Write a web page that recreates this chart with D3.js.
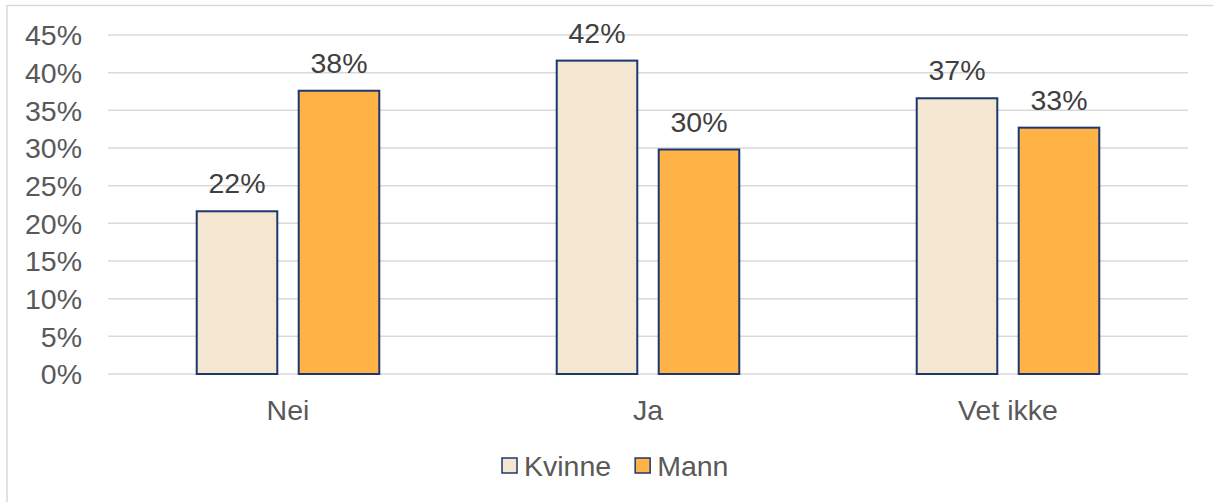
<!DOCTYPE html>
<html>
<head>
<meta charset="utf-8">
<script src="https://cdn.jsdelivr.net/npm/d3@7"></script>
<style>
  body { margin: 0; background: #fff; }
  text { font-family: "Liberation Sans", Arial, sans-serif; }
</style>
</head>
<body>
<div id="chart"></div>
<script>
var categories = ["Nei", "Ja", "Vet ikke"]
var series = ["Kvinne", "Mann"]
var kvinne = [21.6, 41.6, 36.6]
var mann = [37.6, 29.8, 32.7]
var yTicks = [0, 5, 10, 15, 20, 25, 30, 35, 40, 45]

var colors = { Kvinne: "#f5e6d2", Mann: "#ffb347" }
var strokeCol = "#1c3770"

var W = 1213, H = 502
var svg = d3.select("#chart").append("svg").attr("width", W).attr("height", H)

// chart frame (cropped at right/bottom)
svg.append("rect").attr("x", 7).attr("y", 5.5).attr("width", 1230).attr("height", 520)
	.attr("fill", "none").attr("stroke", "#d9d9d9").attr("stroke-width", 1.5)

var x0 = d3.scaleBand().domain(categories).range([108, 1188])
var x1 = d3.scaleBand().domain(series).range([0, x0.bandwidth()]).paddingInner(0.21).paddingOuter(0.87)
var y = d3.scaleLinear().domain([0, 45]).range([374, 35])

// gridlines
svg.append("g").selectAll("line").data(yTicks).enter().append("line")
	.attr("x1", 108).attr("x2", 1188)
	.attr("y1", function(d){ return y(d) }).attr("y2", function(d){ return y(d) })
	.attr("stroke", "#d9d9d9").attr("stroke-width", 1.5)

// y axis labels
var yAxis = d3.axisLeft(y).tickValues(yTicks).tickFormat(function(d){ return d + "%" }).tickSize(0).tickPadding(26)
var ga = svg.append("g").attr("transform", "translate(108,0)").call(yAxis)
ga.select(".domain").remove()
ga.selectAll("text").attr("font-size", "28.5px").attr("fill", "#595959")
	.attr("font-family", "Liberation Sans, Arial, sans-serif").attr("dy", "0.35em")

var rows = categories.map(function(c, i){ return { cat: c, vals: [ { s: "Kvinne", v: kvinne[i] }, { s: "Mann", v: mann[i] } ] } })

var groups = svg.selectAll(".grp").data(rows).enter().append("g")
	.attr("transform", function(d){ return "translate(" + x0(d.cat) + ",0)" })

groups.selectAll("rect").data(function(d){ return d.vals }).enter().append("rect")
	.attr("x", function(d){ return x1(d.s) })
	.attr("width", x1.bandwidth())
	.attr("y", function(d){ return y(d.v) })
	.attr("height", function(d){ return y(0) - y(d.v) })
	.attr("fill", function(d){ return colors[d.s] })
	.attr("stroke", strokeCol).attr("stroke-width", 2)

groups.selectAll(".lbl").data(function(d){ return d.vals }).enter().append("text")
	.attr("x", function(d){ return x1(d.s) + x1.bandwidth() / 2 })
	.attr("y", function(d){ return y(d.v) - 18 })
	.attr("text-anchor", "middle").attr("font-size", "28.5px").attr("fill", "#404040")
	.text(function(d){ return Math.round(d.v) + "%" })

// category labels
svg.append("g").selectAll("text").data(categories).enter().append("text")
	.attr("x", function(d){ return x0(d) + x0.bandwidth() / 2 })
	.attr("y", 420)
	.attr("text-anchor", "middle").attr("font-size", "28.5px").attr("fill", "#595959")
	.text(function(d){ return d })

// legend
var leg = svg.append("g")
var lx = 502
series.forEach(function(s){
	leg.append("rect").attr("x", lx).attr("y", 458).attr("width", 15).attr("height", 15)
		.attr("fill", colors[s]).attr("stroke", strokeCol).attr("stroke-width", 1.5)
	var t = leg.append("text").attr("x", lx + 22).attr("y", 476)
		.attr("font-size", "28.5px").attr("fill", "#595959").text(s)
	lx = lx + 22 + t.node().getComputedTextLength() + 24
})
</script>
</body>
</html>
